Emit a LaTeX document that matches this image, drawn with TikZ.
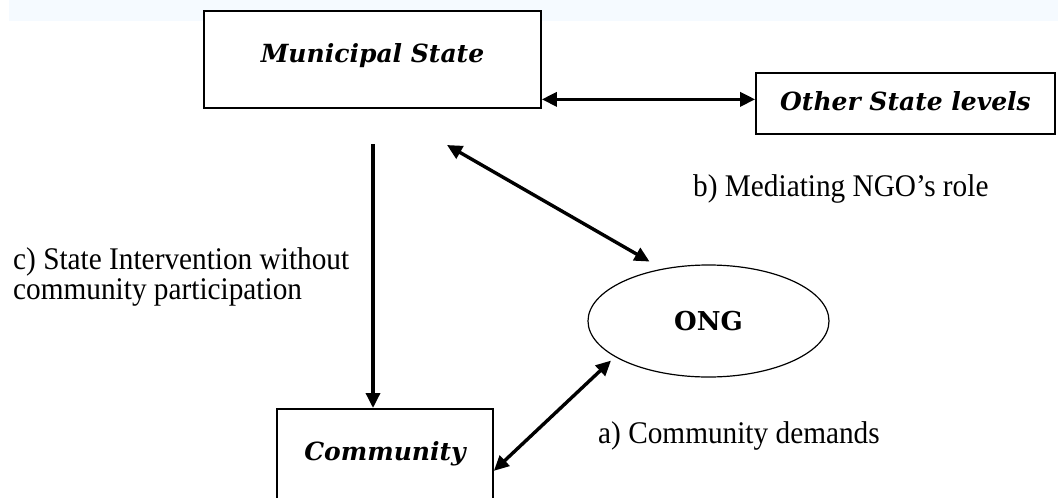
\documentclass[tikz,border=0pt]{standalone}
\usepackage{fontspec}
\setmainfont{Liberation Serif}
\newfontfamily\labelfont[FakeStretch=0.93]{Liberation Serif}
\newfontfamily\boxfont{DejaVu Serif}
\usetikzlibrary{arrows.meta,shapes.geometric}
\definecolor{bandblue}{HTML}{F5FAFF}

\begin{document}
\begin{tikzpicture}[x=1pt,y=-1pt,
  actorbox/.style={rectangle, draw=black, fill=white, line width=1.7pt, inner sep=0pt, anchor=north,
    font=\boxfont\bfseries\itshape\fontsize{25}{25}\selectfont},
  ongnode/.style={ellipse, draw=black, line width=1.2pt, inner sep=0pt, minimum width=241pt, minimum height=112pt},
  labelnode/.style={inner sep=0pt, font=\labelfont\fontsize{31.5}{30}\selectfont},
  link/.style={line width=3.4pt, {Triangle[length=15pt,width=14pt]}-{Triangle[length=15pt,width=14pt]}},
  oneway/.style={line width=3.4pt, -{Triangle[length=15pt,width=14pt]}},
]
\useasboundingbox (0,0) rectangle (1058,498);
\clip (0,0) rectangle (1058,498);
\fill[bandblue] (9,0) rectangle (1058,21);

\node[actorbox, minimum width=337pt, text height=52pt, text depth=45pt] (mun) at (372.5,10) {Municipal State};
\node[actorbox, minimum width=299pt, text height=37.4pt, text depth=23.6pt] (oth) at (905.5,72) {Other State levels};
\node[actorbox, minimum width=216pt, text height=52pt, text depth=48pt] (com) at (385,408) {Community};
\node[ongnode, font=\boxfont\bfseries\fontsize{26}{26}\selectfont] (ong) at (708.5,321) {ONG};

\coordinate (vtop) at (373,144);
\coordinate (dtop) at (447,145);

\node[labelnode, anchor=base west] (lblb) at (693,196) {b) Mediating NGO’s role};
\node[labelnode, anchor=base west, align=left] (lblc) at (13,299) {c) State Intervention without\\community participation};
\node[labelnode, anchor=base west] (lbla) at (598,443) {a) Community demands};

\draw[link] ([yshift=4pt]oth.west -| mun.east) -- ([yshift=4pt]oth.west);
\draw[oneway] (vtop) -- (vtop |- com.north);
\draw[link] (dtop) -- ([yshift=10pt]ong.140);
\draw[link] ([yshift=-12pt]com.east) -- ([yshift=-6pt]ong.199);

\end{tikzpicture}
\end{document}
